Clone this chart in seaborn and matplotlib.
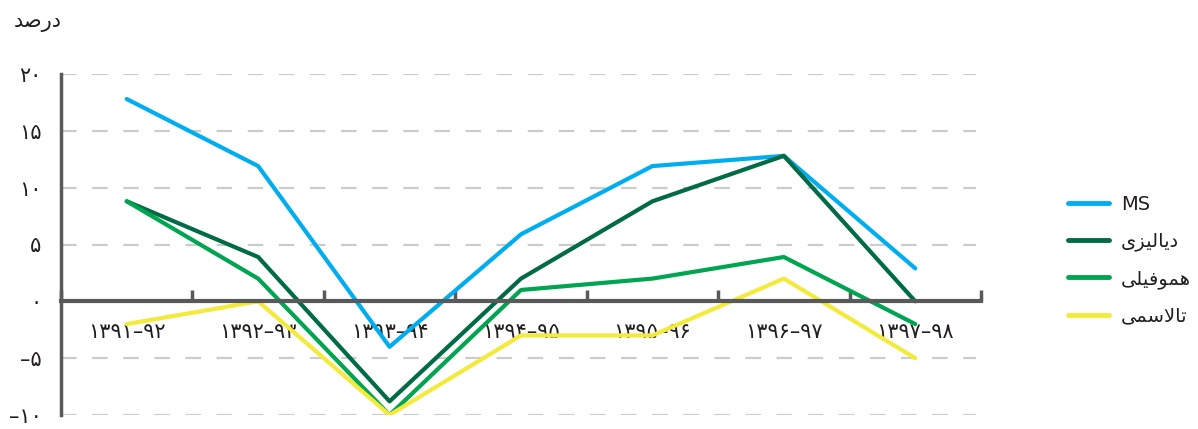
import matplotlib
matplotlib.use("Agg")
import matplotlib.pyplot as plt
import seaborn as sns
import pandas as pd
from matplotlib.ticker import FixedLocator

# ---- data ----
periods = ["۱۳۹۱–۹۲", "۱۳۹۲–۹۳", "۱۳۹۳–۹۴", "۱۳۹۴–۹۵", "۱۳۹۵–۹۶", "۱۳۹۶–۹۷", "۱۳۹۷–۹۸"]
ms = [17.8, 11.9, -4.0, 5.9, 11.9, 12.8, 2.9]
dialysis = [8.8, 3.9, -8.8, 2.0, 8.8, 12.8, 0.0]
hemophilia = [8.8, 2.0, -10.0, 1.0, 2.0, 3.9, -2.0]
thalassemia = [-2.0, 0.0, -10.0, -3.0, -3.0, 2.0, -5.0]

# Persian labels written in visual (pre-shaped, left-to-right) order
series_names = [
    "MS",
    "\uFEEF\uFEB0\uFEF4\uFEDF\uFE8E\uFEF3\uFEA9",   # دیالیزی
    "\uFEF0\uFEE0\uFEF4\uFED3\uFEEE\uFEE4\uFEEB",   # هموفیلی
    "\uFEF0\uFEE4\uFEB3\uFEFB\uFE8E\uFE97",         # تالاسمی
]
unit_label = "\uFEAA\uFEBB\uFEAD\uFEA9"            # درصد
yticks = [-10, -5, 0, 5, 10, 15, 20]
ytick_labels = ["–۱۰", "–۵", "۰", "۵", "۱۰", "۱۵", "۲۰"]
colors = ["#00aeef", "#006b45", "#00a551", "#f3ea3b"]

values = [ms, dialysis, hemophilia, thalassemia]
rows = []
for name, vals in zip(series_names, values):
    for i, v in enumerate(vals):
        rows.append({"idx": i, "value": v, "series": name})
df = pd.DataFrame(rows)

sns.set_theme(style="white")
plt.rcParams["font.family"] = ["DejaVu Sans"]

fig = plt.figure(figsize=(11.98, 4.29), dpi=100)
ax = fig.add_axes([61 / 1198, 1 - 415 / 429, 920 / 1198, 341 / 429])

sns.lineplot(data=df, x="idx", y="value", hue="series", hue_order=series_names,
             palette=colors, linewidth=3.0, sort=False, ax=ax, legend=True)

ax.set_xlim(-0.5, 6.5)
ax.set_ylim(-10, 20)

# grid lines
for y in yticks:
    if y != 0:
        ax.axhline(y, color="#cccccc", linewidth=1.6, dashes=(7, 7), zorder=0,
                   xmax=0.995)

for s in ["top", "right"]:
    ax.spines[s].set_visible(False)
ax.spines["left"].set_color("#58595b")
ax.spines["left"].set_linewidth(2.5)
ax.spines["bottom"].set_position(("data", 0))
ax.spines["bottom"].set_color("#58595b")
ax.spines["bottom"].set_linewidth(3)

ax.set_xticks(range(len(periods)))
ax.set_xticklabels(periods, fontsize=15, color="#231f20")
ax.xaxis.set_minor_locator(FixedLocator([i + 0.5 for i in range(-1, 7)]))
ax.tick_params(axis="x", which="major", length=0, pad=15)
ax.tick_params(axis="x", which="minor", length=8, width=2.5, direction="in",
               color="#58595b", bottom=True)

ax.set_yticks(yticks)
ax.set_yticklabels(ytick_labels, fontsize=15, color="#231f20")
ax.tick_params(axis="y", length=0, pad=14)
ax.set_xlabel("")
ax.set_ylabel("")

fig.text(14 / 1198, 1 - 22 / 429, unit_label, fontsize=15, color="#231f20",
         va="center", ha="left")

leg = ax.legend(loc="center left", bbox_to_anchor=(1050 / 1198, 1 - 260 / 429),
                bbox_transform=fig.transFigure, frameon=False, fontsize=14,
                handlelength=2.15, handletextpad=0.6, labelspacing=0.92)
for line in leg.get_lines():
    line.set_linewidth(3.5)
    line.set_solid_capstyle("round")
for t in leg.get_texts():
    t.set_color("#231f20")

fig.savefig("out.png", dpi=100)
